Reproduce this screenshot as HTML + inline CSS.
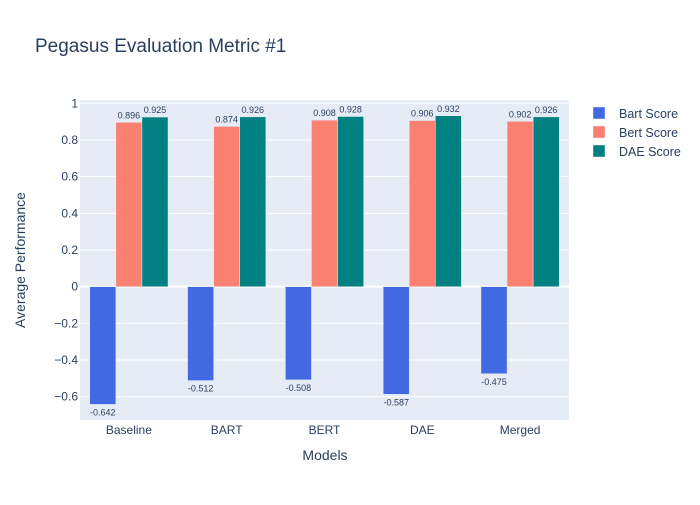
<!DOCTYPE html>
<html><head><meta charset="utf-8"><style>
body{margin:0;background:#fff;font-family:"Liberation Sans",Arial,sans-serif}
svg text{font-family:"Liberation Sans",Arial,sans-serif}
</style></head><body>
<svg id="chart" width="700" height="500" xmlns="http://www.w3.org/2000/svg">
<rect width="700" height="500" fill="#fff"/>
<text x="35" y="52" font-size="19" fill="#2a3f5f">Pegasus Evaluation Metric #1</text>
<rect x="80" y="100" width="489" height="320" fill="#e5ecf6"/>
<g id="grid"></g><g id="bars"></g><g id="labels"></g>
<text x="325" y="460" font-size="14" fill="#2a3f5f" text-anchor="middle">Models</text>
<text transform="translate(25,260) rotate(-90)" font-size="14" fill="#2a3f5f" text-anchor="middle">Average Performance</text>
<g id="legend"></g>
</svg>
<script>
const categories=["Baseline","BART","BERT","DAE","Merged"];
const seriesNames=["Bart Score","Bert Score","DAE Score"];
const bartScore=[-0.642,-0.512,-0.508,-0.587,-0.475];
const bertScore=[0.896,0.874,0.908,0.906,0.902];
const daeScore=[0.925,0.926,0.928,0.932,0.926];
const yTicks=[-0.6,-0.4,-0.2,0,0.2,0.4,0.6,0.8,1];
const yTickLabels=["−0.6","−0.4","−0.2","0","0.2","0.4","0.6","0.8","1"];
const colors=["#4169e1","#fa8072","#008080"];
const series=[bartScore,bertScore,daeScore];
const NS="http://www.w3.org/2000/svg";
const L=80,R=569,T=100,B=420,yMin=-0.727,yMax=1.018;
const y=v=>B-(v-yMin)/(yMax-yMin)*(B-T);
const bw=(R-L)/categories.length;
const x=i=>L+bw*i;
function mk(tag,attrs,parent,text){const e=document.createElementNS(NS,tag);for(const k in attrs)e.setAttribute(k,attrs[k]);if(text!==undefined)e.textContent=text;document.getElementById(parent)?document.getElementById(parent).appendChild(e):parent.appendChild(e);return e;}
yTicks.forEach((t,i)=>{
  const l=mk('line',{x1:L,x2:R,y1:y(t),y2:y(t),stroke:'#fff','stroke-width':t===0?2:1},'grid');
  
  
  const tx=mk('text',{x:L-2,y:y(t)+4,'font-size':12,fill:'#2a3f5f','text-anchor':'end'},'grid',yTickLabels[i]);
  
  
});
categories.forEach((c,i)=>{
  const tx=mk('text',{x:x(i)+bw/2,y:y(yMin)+14,'font-size':12,fill:'#2a3f5f','text-anchor':'middle'},'grid',c);
  
  
});
const gw=bw*0.8,sw=gw/3;
series.forEach((s,si)=>{
  s.forEach((v,i)=>{
    const bx=x(i)+bw*0.1+si*sw;
    const top=Math.min(y(v),y(0)),h=Math.abs(y(v)-y(0));
    const r=mk('rect',{x:bx,y:top,width:sw,height:h,fill:colors[si],stroke:'#e5ecf6','stroke-width':0.5},'bars');
    
    
    const ly=v>=0?y(v)-4:y(v)+11;
    const t=mk('text',{x:bx+sw/2,y:ly,'font-size':9,fill:'#2a3f5f','text-anchor':'middle'},'labels',v.toFixed(3));
    
    
  });
});
seriesNames.forEach((n,i)=>{
  const g=mk('g',{},'legend');
  
  
  mk('rect',{x:593,y:107+i*19,width:12,height:12,fill:colors[i],stroke:'#e5ecf6','stroke-width':0.5},g);
  mk('text',{x:619,y:118+i*19,'font-size':12.5,fill:'#2a3f5f'},g,n);
});
</script>
</body></html>
